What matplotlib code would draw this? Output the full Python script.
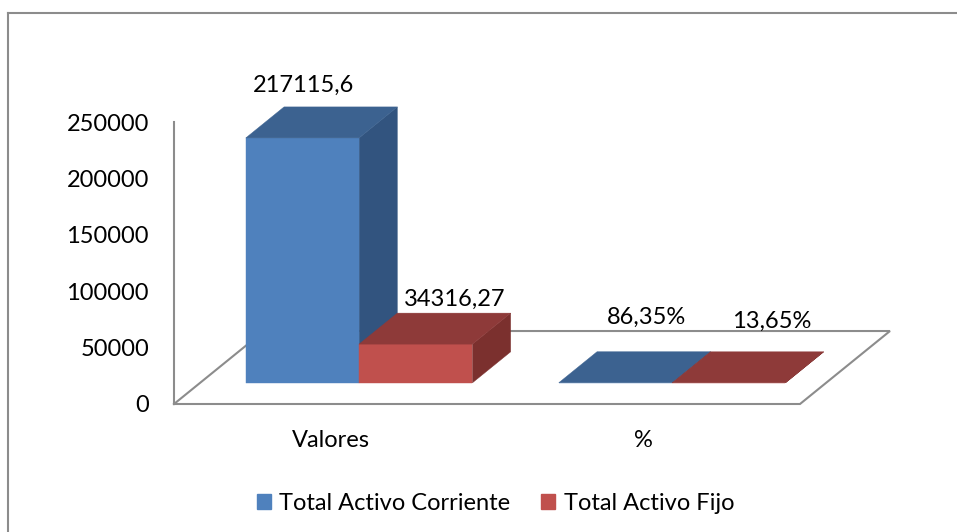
import matplotlib
matplotlib.use("Agg")
import matplotlib.pyplot as plt
from matplotlib.patches import Polygon, Patch
from matplotlib.lines import Line2D

plt.rcParams['font.family'] = ['Lato', 'DejaVu Sans']

# ---- data ----
categories = ["Valores", "%"]
series_names = ["Total Activo Corriente", "Total Activo Fijo"]
corriente = [217115.6, 86.35]
fijo = [34316.27, 13.65]
label_texts = [["217115,6", "34316,27"], ["86,35%", "13,65%"]]
yticks = [0, 50000, 100000, 150000, 200000, 250000]

# ---- style ----
W, H = 957, 532
front_cols = ["#4F81BD", "#C0504D"]
top_cols = ["#3C6290", "#8E3A39"]
side_cols = ["#32547F", "#7B302E"]
grid_col = "#8C8C8C"
FS = 17
DX, DY = 0.2875, 64700.0       # full floor depth offset in data units
D0, D1 = 0.29, 0.715           # bar depth range
BW = 0.362                     # bar width
XSHIFT = 0.008                 # small horizontal shift of bar group
# label nudges in pixels (relative to top-back centre of each bar), y up
nudges = [[(-37, 22), (1, 14)], [(-7, 34), (5, 30)]]

fig = plt.figure(figsize=(W / 100, H / 100), dpi=100)
ax = fig.add_axes([174 / W, (H - 404) / H, (800 - 174) / W, (404 - 122) / H])
ax.set_xlim(0, 2)
ax.set_ylim(0, 250000)
ax.patch.set_visible(False)
for s in ["top", "right", "bottom"]:
    ax.spines[s].set_visible(False)
ax.spines["left"].set_color(grid_col)
ax.spines["left"].set_linewidth(1.5)
ax.set_yticks(yticks)
ax.set_yticklabels([str(v) for v in yticks], fontsize=FS)
ax.tick_params(axis="y", length=0, pad=18)
ax.set_xticks([i + 0.5 for i in range(len(categories))])
ax.set_xticklabels(categories, fontsize=FS)
ax.tick_params(axis="x", length=0, pad=19)


def proj(x, y, d):
    return (x + d * DX, y + d * DY)


# floor outline
floor = [proj(0, 0, 0), proj(2, 0, 0), proj(2, 0, 1), proj(0, 0, 1), proj(0, 0, 0)]
ax.plot([p[0] for p in floor], [p[1] for p in floor], color=grid_col, lw=1.5,
        clip_on=False, zorder=1, solid_joinstyle="miter")


def draw_bar(x0, x1, v, k, z):
    front = [proj(x0, 0, D0), proj(x1, 0, D0), proj(x1, v, D0), proj(x0, v, D0)]
    top = [proj(x0, v, D0), proj(x1, v, D0), proj(x1, v, D1), proj(x0, v, D1)]
    side = [proj(x1, 0, D0), proj(x1, 0, D1), proj(x1, v, D1), proj(x1, v, D0)]
    for poly, col in ((side, side_cols[k]), (front, front_cols[k]), (top, top_cols[k])):
        ax.add_patch(Polygon(poly, closed=True, facecolor=col, edgecolor=col,
                             lw=0.3, clip_on=False, zorder=z))


for i, cat in enumerate(categories):
    vals = [corriente[i], fijo[i]]
    for k, v in enumerate(vals):
        x0 = i + 0.5 - BW + k * BW + XSHIFT
        x1 = x0 + BW
        draw_bar(x0, x1, v, k, 2 + k)
        anchor = proj((x0 + x1) / 2, v, D1)
        ax.annotate(label_texts[i][k], xy=anchor, xytext=nudges[i][k],
                    textcoords="offset pixels", ha="center", va="center",
                    fontsize=FS, annotation_clip=False, zorder=10)

# legend
handles = [Patch(facecolor=front_cols[k], edgecolor=front_cols[k]) for k in range(2)]
fig.legend(handles, series_names, loc="center", bbox_to_anchor=(495.5 / W, 1 - 503 / H),
           ncol=2, frameon=False, fontsize=FS, handlelength=0.6, handleheight=0.6,
           handletextpad=0.35, columnspacing=1.3)

# outer border (only top and left visible)
fig.add_artist(Line2D([8 / W, 8 / W], [0, 1 - 13 / H], transform=fig.transFigure,
                      color=grid_col, lw=1.5))
fig.add_artist(Line2D([8 / W, 1], [1 - 13 / H, 1 - 13 / H], transform=fig.transFigure,
                      color=grid_col, lw=1.5))

fig.savefig("out.png", dpi=100)
